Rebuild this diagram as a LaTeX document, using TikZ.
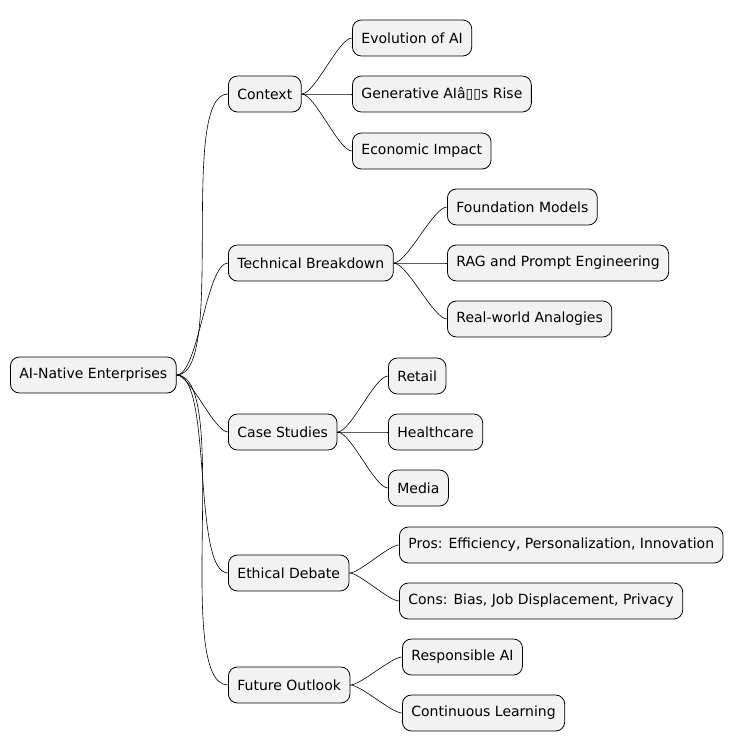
\documentclass[tikz,border=0pt]{standalone}
\usepackage{fontspec}
\setmainfont{DejaVu Sans}
\begin{document}
\begin{tikzpicture}[x=1pt,y=-1pt,
  box/.style={draw=black,fill=black!5,rounded corners=9pt,line width=0.8pt,minimum height=36pt,inner xsep=9pt,anchor=west,font=\fontsize{14}{16}\selectfont},
  link/.style={draw=black,line width=0.6pt}]
\useasboundingbox (0,0) rectangle (745,751);
\node[box] (root) at (10,375) {AI-Native Enterprises};
\node[box] (ctx) at (228,94) {Context};
\node[box] (tb) at (228,263) {Technical Breakdown};
\node[box] (cs) at (228,432) {Case Studies};
\node[box] (ed) at (228,573) {Ethical Debate};
\node[box] (fo) at (228,685) {Future Outlook};
\node[box] (c1) at (352,38) {Evolution of AI};
\node[box] (c2) at (352,94) {Generative AIâ▯▯s Rise};
\node[box] (c3) at (352,151) {Economic Impact};
\node[box] (t1) at (447,207) {Foundation Models};
\node[box] (t2) at (447,263) {RAG and Prompt Engineering};
\node[box] (t3) at (447,319) {Real-world Analogies};
\node[box] (s1) at (388,376) {Retail};
\node[box] (s2) at (388,432) {Healthcare};
\node[box] (s3) at (388,488) {Media};
\node[box] (e1) at (399,545) {Pros: Efficiency, Personalization, Innovation};
\node[box] (e2) at (399,601) {Cons: Bias, Job Displacement, Privacy};
\node[box] (f1) at (402,657) {Responsible AI};
\node[box] (f2) at (402,713) {Continuous Learning};
\foreach \p/\c in {root/ctx,root/tb,root/cs,root/ed,root/fo,ctx/c1,ctx/c2,ctx/c3,tb/t1,tb/t2,tb/t3,cs/s1,cs/s2,cs/s3,ed/e1,ed/e2,fo/f1,fo/f2}
  \draw[link] (\p.east) to[out=0,in=180,looseness=0.45] (\c.west);
\end{tikzpicture}
\end{document}
